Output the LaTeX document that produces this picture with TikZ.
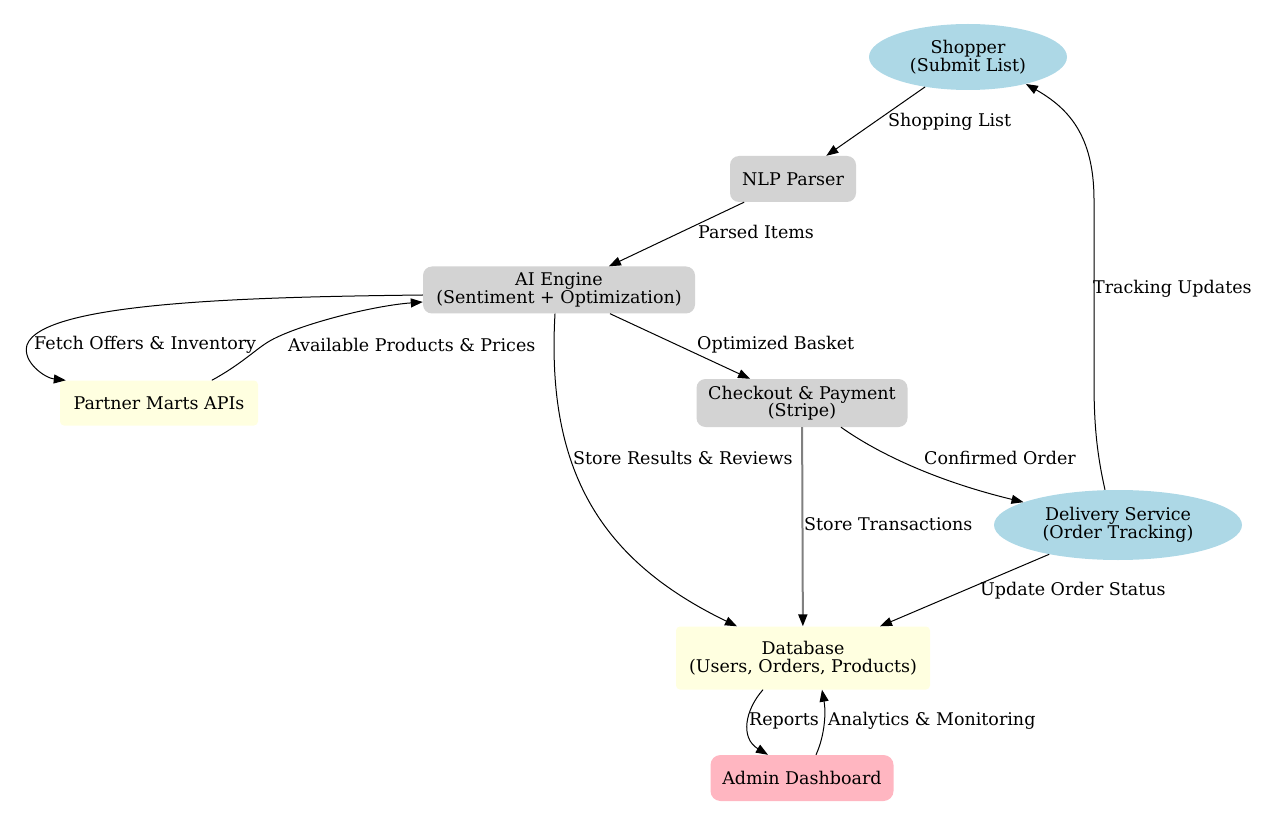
\documentclass[tikz,border=0pt]{standalone}
\usepackage{fontspec}
\setmainfont{DejaVu Serif}
\usetikzlibrary{arrows.meta,shapes.geometric}
\definecolor{procgray}{HTML}{D3D3D3}
\definecolor{actorblue}{HTML}{ADD8E6}
\definecolor{storeyellow}{HTML}{FFFFE0}
\definecolor{adminpink}{HTML}{FFB6C1}
\begin{document}
\begin{tikzpicture}[x=1pt,y=-1pt,
  font=\fontsize{17.5}{17.5}\selectfont,
  every node/.style={inner sep=0pt, align=center},
  proc/.style={rectangle, rounded corners=9pt, fill=procgray},
  actor/.style={ellipse, fill=actorblue},
  store/.style={rectangle, rounded corners=4pt, fill=storeyellow},
  admin/.style={rectangle, rounded corners=10pt, fill=adminpink},
  lbl/.style={anchor=west},
  flow/.style={line width=1pt, -{Triangle[length=12pt,width=9pt,color=black,fill=black]}},
]
\useasboundingbox (0,0) rectangle (1280,826);

% nodes
\node[actor, minimum width=198, minimum height=66] (shopper) at (968,57) {Shopper\\(Submit List)};
\node[proc, minimum width=126, minimum height=46] (nlp) at (793,179) {NLP Parser};
\node[proc, minimum width=272, minimum height=47] (ai) at (559,290) {AI Engine\\(Sentiment + Optimization)};
\node[store, minimum width=198, minimum height=45] (partner) at (159,403) {Partner Marts APIs};
\node[proc, minimum width=211, minimum height=48] (checkout) at (802,403) {Checkout \& Payment\\(Stripe)};
\node[actor, minimum width=248, minimum height=70] (delivery) at (1118,525) {Delivery Service\\(Order Tracking)};
\node[store, minimum width=254, minimum height=63] (db) at (803,658) {Database\\(Users, Orders, Products)};
\node[admin, minimum width=183, minimum height=46] (dash) at (802,778) {Admin Dashboard};

% connectors
\draw[flow] (shopper) -- (nlp);
\draw[flow] (nlp) -- (ai);
\draw[flow] ([yshift=-5pt]ai.west) .. controls (250,297) and (42,302) .. (27,345)
   .. controls (22,362) and (45,378) .. ([xshift=6pt]partner.north west);
\draw[flow] ([xshift=152pt]partner.north west) .. controls (240,365) and (255,350) .. (268,342)
   .. controls (294,326) and (370,306) .. ([yshift=-12pt]ai.west);
\draw[flow] (ai) -- (checkout);
\draw[flow] ([xshift=-4pt]ai.south) .. controls (546,470) and (600,560) .. ([xshift=-66pt]db.north);
\draw[flow, draw=black!50, line width=2pt] (checkout) -- (db);
\draw[flow] ([xshift=39pt]checkout.south) .. controls (880,455) and (940,482) .. (delivery);
\draw[flow] ([xshift=-13pt]delivery.north) .. controls (1096,450) and (1094,420) .. (1094,380)
   -- (1094,200) .. controls (1094,135) and (1068,108) .. (shopper.-25);
\draw[flow] (delivery) -- ([xshift=77pt]db.north);
\draw[flow] ([xshift=-40pt]db.south) .. controls (745,710) and (740,738) .. ([xshift=-34pt]dash.north);
\draw[flow] ([xshift=14pt]dash.north) .. controls (825,735) and (826,712) .. ([xshift=19pt]db.south);

% connector labels
\node[lbl] (l1) at (888,122) {Shopping List};
\node[lbl] (l2) at (698,232) {Parsed Items};
\node[lbl] (l3) at (34,345) {Fetch Offers \& Inventory};
\node[lbl] (l4) at (288,345) {Available Products \& Prices};
\node[lbl] (l5) at (697,345) {Optimized Basket};
\node[lbl] (l6) at (573,458) {Store Results \& Reviews};
\node[lbl] (l7) at (804,524) {Store Transactions};
\node[lbl] (l8) at (924,458) {Confirmed Order};
\node[lbl] (l9) at (1093,289) {Tracking Updates};
\node[lbl] (l10) at (980,591) {Update Order Status};
\node[lbl] (l11) at (749,721) {Reports};
\node[lbl] (l12) at (828,721) {Analytics \& Monitoring};
\end{tikzpicture}
\end{document}
